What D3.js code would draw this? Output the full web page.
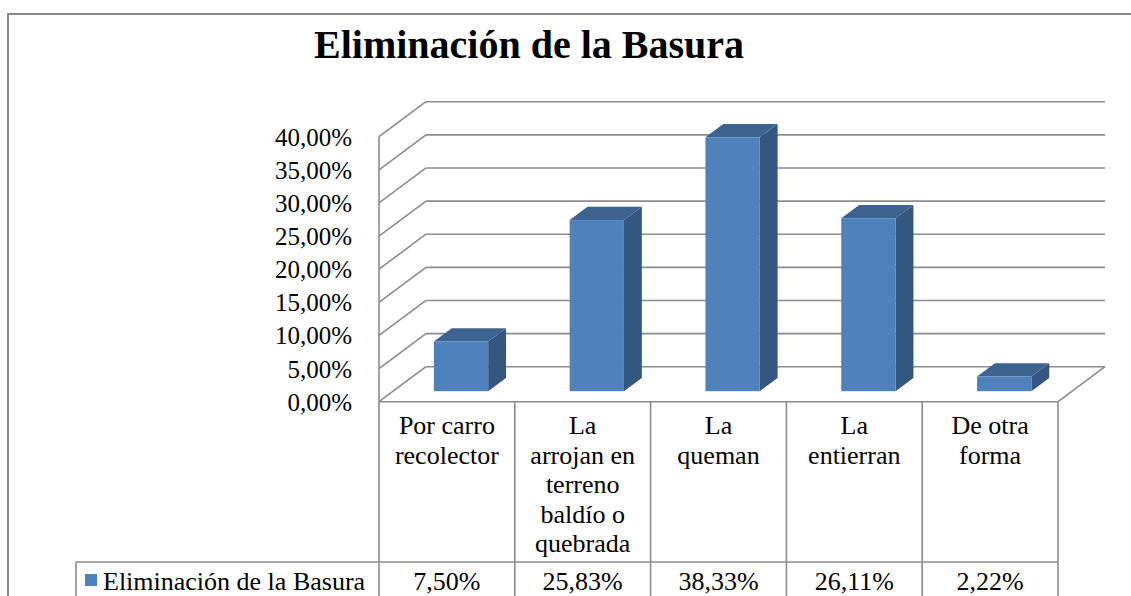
<!DOCTYPE html>
<html>
<head>
<meta charset="utf-8">
<script src="https://cdn.jsdelivr.net/npm/d3@7"></script>
</head>
<body style="margin:0">
<svg id="chart"></svg>
<script>
// data
const title = "Eliminación de la Basura";
const seriesName = "Eliminación de la Basura";
const categories = ["Por carro\nrecolector", "La\narrojan en\nterreno\nbaldío o\nquebrada", "La\nqueman", "La\nentierran", "De otra\nforma"];
const values = [7.50, 25.83, 38.33, 26.11, 2.22];
const yTicks = [0, 5, 10, 15, 20, 25, 30, 35, 40];

const W = 1131, H = 596;
const es = d3.formatLocale({decimal: ",", thousands: ".", grouping: [3], currency: ["", "€"]});
const pct = v => es.format(".2f")(v) + "%";
const SERIF = "Liberation Serif";

const svg = d3.select("#chart").attr("width", W).attr("height", H);

// outer chart border (runs off the right/bottom edge)
svg.append("rect")
  .attr("x", 8).attr("y", 14).attr("width", 1140).attr("height", 620)
  .attr("fill", "none").attr("stroke", "#898989").attr("stroke-width", 2);

// title
svg.append("text")
  .attr("x", 529).attr("y", 58)
  .attr("text-anchor", "middle")
  .attr("font-family", SERIF).style("font-family", "'" + SERIF + "'")
  .attr("font-size", 40).attr("font-weight", "bold")
  .text(title);

// plot geometry
const x0 = 379, x1 = 1058, yBase = 401.7;
const dX = 47, dY = -35;          // floor depth offset
const grid = "#8c8c8c";

const x = d3.scaleBand().domain(categories).range([x0, x1]);
const y = d3.scaleLinear().domain([0, 40]).range([yBase, 136.7]);

const g = svg.append("g");

// left wall + back wall gridlines
yTicks.forEach(t => {
  g.append("line")
    .attr("x1", x0).attr("y1", y(t)).attr("x2", x0 + dX).attr("y2", y(t) + dY)
    .attr("stroke", grid).attr("stroke-width", 1.6);
  g.append("line")
    .attr("x1", x0 + dX).attr("y1", y(t) + dY).attr("x2", x1 + dX).attr("y2", y(t) + dY)
    .attr("stroke", grid).attr("stroke-width", 1.6);
});
// front vertical axis
g.append("line").attr("x1", x0).attr("x2", x0).attr("y1", y(40)).attr("y2", yBase)
  .attr("stroke", grid).attr("stroke-width", 1.6);
// floor right edge
g.append("line").attr("x1", x1).attr("y1", yBase).attr("x2", x1 + dX).attr("y2", yBase + dY)
  .attr("stroke", grid).attr("stroke-width", 1.6);

// y labels
svg.append("g").selectAll("text").data(yTicks).join("text")
  .attr("x", 352).attr("y", d => y(d) + 9)
  .attr("text-anchor", "end")
  .attr("font-family", SERIF).style("font-family", "'" + SERIF + "'")
  .attr("font-size", 25)
  .text(d => pct(d));

// bars
const z0 = 0.3, zd = 0.38;
const bw = x.bandwidth() * 0.4;
const bars = g.append("g").selectAll("g").data(values).join("g");
bars.each(function(v, i) {
  const b = d3.select(this);
  const left = x(categories[i]) + x.bandwidth() / 2 - bw / 2 + z0 * dX;
  const right = left + bw;
  const bottom = yBase + z0 * dY;
  const top = y(v) + z0 * dY;
  const ox = zd * dX, oy = zd * dY;
  // side
  b.append("polygon")
    .attr("points", [[right, top], [right + ox, top + oy], [right + ox, bottom + oy], [right, bottom]].join(" "))
    .attr("fill", "#34567f");
  // top
  b.append("polygon")
    .attr("points", [[left, top], [left + ox, top + oy], [right + ox, top + oy], [right, top]].join(" "))
    .attr("fill", "#3d6491");
  // front
  b.append("rect")
    .attr("x", left).attr("y", top).attr("width", bw).attr("height", bottom - top)
    .attr("fill", "#4f81bd");
});

// data table
const t = svg.append("g");
const rowY = 562, legX = 76;
t.append("line").attr("x1", x0).attr("x2", x1).attr("y1", yBase).attr("y2", yBase)
  .attr("stroke", grid).attr("stroke-width", 1.6);
t.append("line").attr("x1", legX).attr("x2", x1).attr("y1", rowY).attr("y2", rowY)
  .attr("stroke", grid).attr("stroke-width", 1.6);
t.append("line").attr("x1", legX).attr("x2", legX).attr("y1", rowY).attr("y2", H)
  .attr("stroke", grid).attr("stroke-width", 1.6);
categories.concat([null]).forEach(c => {
  const xx = c ? x(c) : x1;
  t.append("line").attr("x1", xx).attr("x2", xx).attr("y1", yBase).attr("y2", H)
    .attr("stroke", grid).attr("stroke-width", 1.6);
});

// category labels, one text per line
categories.forEach(c => {
  c.split("\n").forEach((line, k) => {
    t.append("text")
      .attr("x", x(c) + x.bandwidth() / 2)
      .attr("y", 434 + k * 29.5)
      .attr("text-anchor", "middle")
      .attr("font-family", SERIF).style("font-family", "'" + SERIF + "'")
      .attr("font-size", 26)
      .text(line);
  });
});

// values row
t.append("g").selectAll("text").data(values).join("text")
  .attr("x", (d, i) => x(categories[i]) + x.bandwidth() / 2)
  .attr("y", 590).attr("text-anchor", "middle")
  .attr("font-family", SERIF).style("font-family", "'" + SERIF + "'")
  .attr("font-size", 26)
  .text(d => pct(d));

// legend key
t.append("rect").attr("x", 85).attr("y", 574).attr("width", 12).attr("height", 12).attr("fill", "#4f81bd");
t.append("text").attr("x", 103).attr("y", 590)
  .attr("font-family", SERIF).style("font-family", "'" + SERIF + "'")
  .attr("font-size", 26).text(seriesName);
</script>
</body>
</html>
